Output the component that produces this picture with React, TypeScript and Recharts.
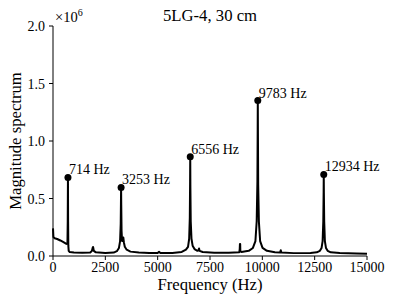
import React from 'react';
import { ComposedChart, Line, Scatter, XAxis, YAxis } from 'recharts';

// spectrum samples (frequency in Hz, magnitude in units of 1e6)
const freqs = [
  0, 20, 80, 200, 350, 500, 640, 690, 704, 714, 722, 732, 750, 800, 1000, 1400,
  1780, 1860, 1900, 1915, 1950, 2050, 2500, 2900, 3050, 3150, 3205, 3235, 3248, 3253,
  3260, 3275, 3300, 3330, 3360, 3385, 3430, 3520, 3700, 4100, 4600, 5000, 5065, 5130,
  5700, 6150, 6350, 6450, 6505, 6535, 6550, 6556, 6563, 6580, 6615, 6670, 6760, 6900,
  6950, 6976, 7000, 7150, 7700, 8400, 8900, 8920, 8930, 8942, 8950, 9000, 9350, 9550,
  9670, 9730, 9765, 9778, 9783, 9789, 9802, 9835, 9895, 10010, 10220, 10600, 10850,
  10880, 10910, 11500, 12300, 12600, 12750, 12830, 12880, 12912, 12928, 12934, 12940,
  12956, 12988, 13040, 13120, 13270, 13700, 14500, 15000,
];
const magnitudes = [
  0.24, 0.165, 0.155, 0.148, 0.135, 0.12, 0.105, 0.11, 0.3, 0.683, 0.3, 0.09, 0.045, 0.034, 0.03, 0.028,
  0.03, 0.045, 0.075, 0.078, 0.045, 0.032, 0.027, 0.03, 0.042, 0.07, 0.13, 0.28, 0.5, 0.596,
  0.45, 0.22, 0.13, 0.13, 0.16, 0.12, 0.08, 0.055, 0.038, 0.03, 0.026, 0.026, 0.036, 0.026,
  0.027, 0.035, 0.055, 0.08, 0.15, 0.33, 0.65, 0.863, 0.6, 0.3, 0.15, 0.09, 0.06, 0.045,
  0.05, 0.065, 0.045, 0.035, 0.028, 0.028, 0.033, 0.06, 0.105, 0.105, 0.04, 0.035, 0.045, 0.07,
  0.13, 0.3, 0.65, 1.1, 1.352, 1.1, 0.62, 0.3, 0.13, 0.07, 0.045, 0.032, 0.03,
  0.05, 0.03, 0.025, 0.027, 0.032, 0.045, 0.07, 0.13, 0.3, 0.55, 0.709, 0.55,
  0.3, 0.13, 0.07, 0.045, 0.032, 0.026, 0.022, 0.02,
];

const peakFreqs = [714, 3253, 6556, 9783, 12934];
const peakMags = [0.683, 0.596, 0.863, 1.352, 0.709];

const xTicks = [0, 2500, 5000, 7500, 10000, 12500, 15000];
const yTicks = [0, 0.5, 1.0, 1.5, 2.0];

const spectrum = freqs.map((f, i) => ({ f, m: magnitudes[i] }));
const peaks = peakFreqs.map((f, i) => ({ f, m: peakMags[i], label: `${f} Hz` }));

const SERIF = 'Liberation Serif';

const PeakMarker = (props: any) => {
  const { cx, cy, payload } = props;
  return (
    <g>
      <circle cx={cx} cy={cy} r={3.5} fill="#000" />
      <text x={cx + 1} y={cy - 3} fontSize={14} fontFamily={SERIF} fill="#000">
        {payload.label}
      </text>
    </g>
  );
};

const XTick = (props: any) => {
  const { x, y, payload } = props;
  return (
    <text x={x} y={y + 10} textAnchor="middle" fontSize={14} fontFamily={SERIF} fill="#000">
      {payload.value}
    </text>
  );
};

const YTick = (props: any) => {
  const { x, y, payload } = props;
  return (
    <text x={x} y={y + 5} textAnchor="end" fontSize={14} fontFamily={SERIF} fill="#000">
      {Number(payload.value).toFixed(1)}
    </text>
  );
};

export default function App() {
  return (
    <div style={{ position: 'absolute', left: 0, top: 0, width: 395, height: 304, background: '#fff' }}>
      <ComposedChart width={395} height={304} margin={{ top: 26, right: 28, bottom: 0, left: 0 }}>
        <XAxis
          dataKey="f"
          type="number"
          domain={[0, 15000]}
          ticks={xTicks}
          interval={0}
          height={48}
          tick={<XTick />}
          tickSize={4}
          tickMargin={2}
          stroke="#000"
        />
        <XAxis
          xAxisId="top"
          orientation="top"
          type="number"
          domain={[0, 15000]}
          height={0}
          tick={false}
          tickLine={false}
          stroke="#000"
        />
        <YAxis
          type="number"
          domain={[0, 2]}
          ticks={yTicks}
          width={53}
          tick={<YTick />}
          tickSize={4}
          tickMargin={4}
          stroke="#000"
        />
        <YAxis
          yAxisId="right"
          orientation="right"
          type="number"
          domain={[0, 2]}
          width={0}
          tick={false}
          tickLine={false}
          stroke="#000"
        />
        <Line
          data={spectrum}
          dataKey="m"
          type="linear"
          stroke="#000"
          strokeWidth={2}
          strokeLinejoin="round"
          dot={false}
          isAnimationActive={false}
        />
        <Scatter data={peaks} dataKey="m" shape={<PeakMarker />} isAnimationActive={false} />
      </ComposedChart>
      <svg width={395} height={304} style={{ position: 'absolute', left: 0, top: 0, pointerEvents: 'none' }}>
        <text x={210} y={21} fontSize={16.7} fontFamily={SERIF} textAnchor="middle" fill="#000">
          5LG-4, 30 cm
        </text>
        <text x={55} y={22} fontSize={14.5} fontFamily={SERIF} fill="#000">
          ×10<tspan fontSize={10} dy={-6}>6</tspan>
        </text>
        <text x={210} y={290} fontSize={16.7} fontFamily={SERIF} textAnchor="middle" fill="#000">
          Frequency (Hz)
        </text>
        <text
          x={0}
          y={0}
          fontSize={16.7}
          fontFamily={SERIF}
          textAnchor="middle"
          fill="#000"
          transform="translate(21, 141) rotate(-90)"
        >
          Magnitude spectrum
        </text>
      </svg>
    </div>
  );
}
